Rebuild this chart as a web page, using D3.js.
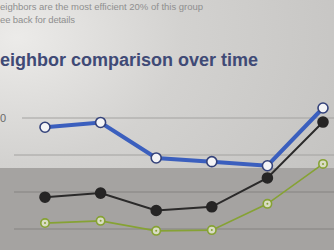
<!DOCTYPE html>
<html>
<head>
<meta charset="utf-8">
<script src="https://cdn.jsdelivr.net/npm/d3@7"></script>
<style>
  body { margin: 0; overflow: hidden; }
  svg { display: block; }
</style>
</head>
<body>
<svg id="chart" width="334" height="250"></svg>
<script>
// six readings over time
var periods = ["1", "2", "3", "4", "5", "6"];
var you = [375, 388, 292, 282, 271, 427];
var allNeighbors = [186, 197, 150, 160, 238, 389];
var efficientNeighbors = [116, 122, 95, 97, 168, 276];
var gridValues = [100, 200, 300, 400];
var tickLabels = ["", "", "", "0"];

var svg = d3.select("#chart"),
  width = +svg.attr("width"),
  height = +svg.attr("height");

// paper background with the photo's lighting
var defs = svg.append("defs");
var grad = defs.append("radialGradient").attr("id", "paper")
  .attr("cx", "0.05").attr("cy", "0.15").attr("r", "1.1");
grad.append("stop").attr("offset", "0").attr("stop-color", "#ecebe9");
grad.append("stop").attr("offset", "0.45").attr("stop-color", "#d3d2d0");
grad.append("stop").attr("offset", "1").attr("stop-color", "#c4c3c1");

svg.append("rect").attr("width", width).attr("height", height).attr("fill", "url(#paper)");
// darker shadow band across the lower half
svg.append("rect").attr("x", 0).attr("y", 168).attr("width", width).attr("height", height - 168)
  .attr("fill", "#a5a3a1");

// header text
svg.append("text").attr("x", 0).attr("y", 10)
  .attr("font-family", "Liberation Sans, Arial, sans-serif").attr("font-size", 9.5)
  .attr("textLength", 203).attr("lengthAdjust", "spacing")
  .attr("fill", "#8f8f8f").text("eighbors are the most efficient 20% of this group");
svg.append("text").attr("x", 0).attr("y", 23)
  .attr("font-family", "Liberation Sans, Arial, sans-serif").attr("font-size", 9.5)
  .attr("textLength", 75).attr("lengthAdjust", "spacing")
  .attr("fill", "#8f8f8f").text("ee back for details");
svg.append("text").attr("x", 0).attr("y", 66)
  .attr("font-family", "Liberation Sans, Arial, sans-serif").attr("font-size", 18)
  .attr("font-weight", "bold")
  .attr("textLength", 258).attr("lengthAdjust", "spacing")
  .attr("fill", "#3f4a76").text("eighbor comparison over time");

var x = d3.scaleLinear().domain([0, periods.length - 1]).range([45, 323]);
var y = d3.scaleLinear().domain([100, 400]).range([229, 118]);

// grid
var grid = svg.append("g");
grid.selectAll("line").data(gridValues).enter().append("line")
  .attr("x1", function(d) { return d == 400 ? 22 : 14; })
  .attr("x2", width)
  .attr("y1", function(d) { return y(d); })
  .attr("y2", function(d) { return y(d); })
  .attr("stroke", function(d) { return y(d) > 168 ? "#858381" : "#a3a2a0"; })
  .attr("stroke-width", 1);

grid.selectAll("text").data(gridValues).enter().append("text")
  .attr("x", 0)
  .attr("y", function(d) { return y(d) + 4; })
  .attr("font-family", "Liberation Sans, Arial, sans-serif").attr("font-size", 11)
  .attr("fill", "#6a6a6a")
  .text(function(d, i) { return tickLabels[i]; });

var line = d3.line()
  .x(function(d, i) { return x(i); })
  .y(function(d) { return y(d); });

function drawSeries(data, color, width, r, fill, markerStroke, dot) {
  var g = svg.append("g");
  g.append("path").datum(data)
    .attr("fill", "none").attr("stroke", color).attr("stroke-width", width)
    .attr("d", line);
  g.selectAll("circle.m").data(data).enter().append("circle")
    .attr("class", "m")
    .attr("cx", function(d, i) { return x(i); })
    .attr("cy", function(d) { return y(d); })
    .attr("r", r)
    .attr("fill", fill)
    .attr("stroke", markerStroke)
    .attr("stroke-width", 1.6);
  if (dot) {
    g.selectAll("circle.d").data(data).enter().append("circle")
      .attr("class", "d")
      .attr("cx", function(d, i) { return x(i); })
      .attr("cy", function(d) { return y(d); })
      .attr("r", 1)
      .attr("fill", color);
  }
}

drawSeries(efficientNeighbors, "#86a234", 1.6, 4.2, "#d9dcc4", "#86a234", true);
drawSeries(allNeighbors, "#2b2a2a", 2, 5, "#262525", "#262525", false);
drawSeries(you, "#3b5fbe", 4, 5, "#f4f4f6", "#34427a", false);
</script>
</body>
</html>
